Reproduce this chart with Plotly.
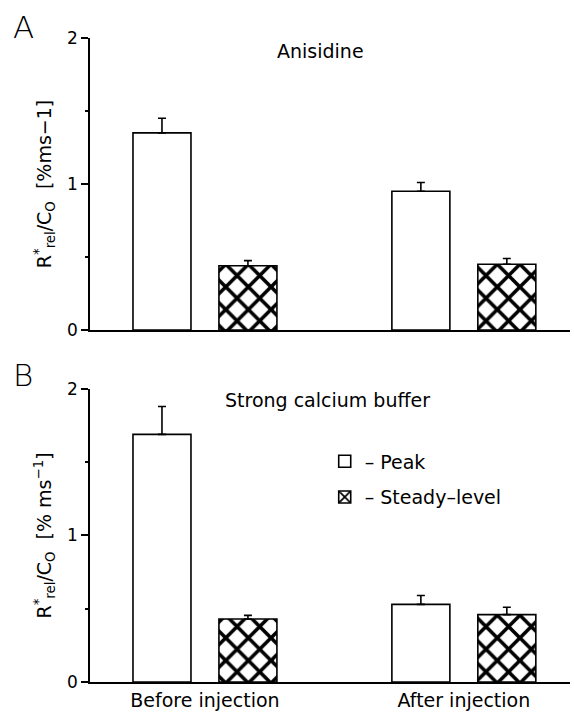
import plotly.graph_objects as go

# Group positions and labels
groups = ["Before injection", "After injection"]
group_pos = [0, 1]

# Panel A: Anisidine
a_peak = [1.35, 0.95]
a_peak_err = [0.10, 0.06]
a_steady = [0.44, 0.45]
a_steady_err = [0.035, 0.04]

# Panel B: Strong calcium buffer
b_peak = [1.69, 0.53]
b_peak_err = [0.19, 0.06]
b_steady = [0.43, 0.46]
b_steady_err = [0.025, 0.05]

y_ticks = [0, 1, 2]

BAR_W = 0.224
PEAK_OFF = -0.278
STEADY_OFF = 0.054
FONT = "DejaVu Sans"
TXT = 19


def err(vals):
    return dict(type="data", array=vals, arrayminus=[0] * len(vals), symmetric=False,
                color="black", thickness=1.6, width=4)


def peak_trace(vals, errs, xa, ya, show):
    return go.Bar(x=group_pos, y=vals, width=BAR_W, offset=PEAK_OFF,
                  marker=dict(color="white", line=dict(color="black", width=1.6)),
                  error_y=err(errs), xaxis=xa, yaxis=ya,
                  name="\u2013 Peak", showlegend=show, legendgroup="peak")


def steady_trace(vals, errs, xa, ya, show):
    return go.Bar(x=group_pos, y=vals, width=BAR_W, offset=STEADY_OFF,
                  marker=dict(color="white", line=dict(color="black", width=1.6),
                              pattern=dict(shape="x", fgcolor="black", bgcolor="white",
                                           fgopacity=1, size=16, solidity=0.4)),
                  error_y=err(errs), xaxis=xa, yaxis=ya,
                  name="\u2013 Steady\u2013level", showlegend=show, legendgroup="steady")


fig = go.Figure()
fig.add_trace(peak_trace(a_peak, a_peak_err, "x", "y", False))
fig.add_trace(steady_trace(a_steady, a_steady_err, "x", "y", False))
fig.add_trace(peak_trace(b_peak, b_peak_err, "x2", "y2", True))
fig.add_trace(steady_trace(b_steady, b_steady_err, "x2", "y2", True))

x_range = [-0.444, 1.41]
dom_a = [0.5466, 1.0]
dom_b = [0.0, 0.455]

xcommon = dict(range=x_range, showline=True, linecolor="black", linewidth=1.6,
               showgrid=False, zeroline=False, ticks="", tickvals=group_pos, ticktext=groups,
               tickfont=dict(family=FONT, size=TXT, color="black"))
ycommon = dict(range=[0, 2], showline=True, linecolor="black", linewidth=1.6,
               showgrid=False, zeroline=False, ticks="outside", ticklen=7, tickwidth=1.5,
               tickcolor="black", tickvals=y_ticks,
               minor=dict(dtick=0.5, ticks="outside", ticklen=3, tickwidth=1.5, tickcolor="black"),
               tickfont=dict(family=FONT, size=17, color="black"))
# short inward ticks so that the tick marks cross the axis line
yinner = dict(range=[0, 2], showline=False, showgrid=False, zeroline=False,
              ticks="inside", ticklen=3, tickwidth=1.5, tickcolor="black",
              tickvals=y_ticks, showticklabels=False,
              minor=dict(dtick=0.5, ticks="inside", ticklen=2, tickwidth=1.5, tickcolor="black"))

title_a = "R<sup>*</sup><sub>rel</sub>/C<sub>O</sub>  [%ms\u22121]"
title_b = "R<sup>*</sup><sub>rel</sub>/C<sub>O</sub>  [% ms<sup>\u22121</sup>]"
title_font = dict(family=FONT, size=19, color="black")
letter_font = dict(family=FONT, size=31, color="black", weight=200)

fig.update_layout(
    width=574, height=721,
    margin=dict(l=90, r=4, t=38, b=39),
    paper_bgcolor="white", plot_bgcolor="white",
    barmode="overlay",
    xaxis=dict(xcommon, domain=[0, 1], anchor="y", showticklabels=False),
    yaxis=dict(ycommon, domain=dom_a, anchor="x",
               title=dict(text=title_a, standoff=10, font=title_font)),
    xaxis2=dict(xcommon, domain=[0, 1], anchor="y2"),
    yaxis2=dict(ycommon, domain=dom_b, anchor="x2",
                title=dict(text=title_b, standoff=10, font=title_font)),
    yaxis3=dict(yinner, domain=dom_a, anchor="x", overlaying="y"),
    yaxis4=dict(yinner, domain=dom_b, anchor="x2", overlaying="y2"),
    legend=dict(x=0.489, y=0.372, xanchor="left", yanchor="top",
                font=dict(family=FONT, size=TXT, color="black"),
                bgcolor="rgba(0,0,0,0)", tracegroupgap=8, itemwidth=30,
                traceorder="grouped"),
    annotations=[
        dict(text="Anisidine", xref="paper", yref="paper", x=0.481, y=0.980,
             xanchor="center", yanchor="middle",
             showarrow=False, font=dict(family=FONT, size=TXT, color="black")),
        dict(text="Strong calcium buffer", xref="paper", yref="paper", x=0.494, y=0.438,
             xanchor="center", yanchor="middle",
             showarrow=False, font=dict(family=FONT, size=TXT, color="black")),
        dict(text="A", xref="paper", yref="paper", x=-0.165, y=1.017,
             xanchor="left", yanchor="middle", showarrow=False, font=letter_font),
        dict(text="B", xref="paper", yref="paper", x=-0.165, y=0.477,
             xanchor="left", yanchor="middle", showarrow=False, font=letter_font),
    ],
)

fig.write_html("out.html")
